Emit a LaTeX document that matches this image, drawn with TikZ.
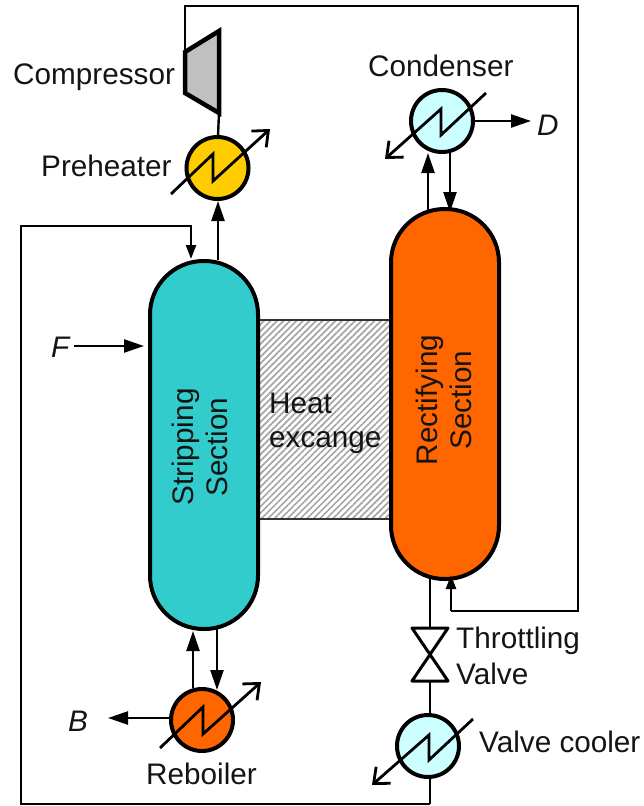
\documentclass[tikz,border=0pt]{standalone}
\usepackage{fontspec}
\setmainfont{Liberation Sans}
\usetikzlibrary{arrows.meta,patterns.meta}
\definecolor{tealfill}{HTML}{33CCCC}
\definecolor{orangefill}{HTML}{FF6600}
\definecolor{yellowfill}{HTML}{FFCC00}
\definecolor{coolfill}{HTML}{CCFFFF}
\definecolor{compfill}{HTML}{C0C0C0}
\tikzset{
  labeltext/.style={font=\fontsize{29.7}{33.5}\selectfont,inner sep=0pt,text=black!92},
  italabel/.style={labeltext,font=\fontsize{29.7}{33.5}\selectfont\itshape},
  vlabel/.style={labeltext,align=center,rotate=90},
  column/.style={draw=black,line width=4pt,rounded corners=53.5pt,minimum width=108pt,inner sep=0pt},
  hx/.style={circle,draw=black,line width=4pt,minimum size=62pt,inner sep=0pt},
  pipe/.style={draw=black,line width=2.4pt},
  flow/.style={pipe,-{Triangle[length=20pt,width=13pt]},shorten >=0pt},
  flowsmall/.style={pipe,-{Triangle[length=14pt,width=10pt]}},
  zig/.style={draw=black,line width=2.8pt,line join=miter},
  zigout/.style={zig,-{Straight Barb[length=13pt,width=22pt,line width=2.8pt]}},
  valvepart/.style={draw=black,fill=white,line width=3pt,line join=round},
  hatchbox/.style={draw=black!80,line width=1.5pt,pattern={Lines[angle=45,distance=4.6pt,line width=1.7pt]},pattern color=black!35},
}
\begin{document}
\begin{tikzpicture}[x=1pt,y=-1pt]
\useasboundingbox (0,0) rectangle (643,806);
% named anchors
\coordinate (topL) at (185,6);
\coordinate (topR) at (578,6);
\coordinate (botR) at (578,611);
\coordinate (botM) at (451,611);
\coordinate (loopTL) at (21,226);
\coordinate (loopTR) at (191,226);
\coordinate (loopBL) at (21,804);
\coordinate (loopBR) at (430,804);
\coordinate (feedS) at (74,346);
\coordinate (feedE) at (144,346);
\coordinate (compTL) at (185,52);
\coordinate (compBR) at (219,113);
\coordinate (valveT) at (430,628);
\coordinate (valveB) at (430,681);
\coordinate (dEnd) at (531,121);
\coordinate (bEnd) at (108,718);

% heat exchange band
\node[hatchbox,minimum width=133pt,minimum height=199pt,inner sep=0pt] (band) at (325,419.5) {};

% columns
\node[column,fill=tealfill,minimum height=368pt] (strip) at (204,445) {};
\node[column,fill=orangefill,minimum height=370pt] (rect) at (445,394) {};

% exchangers
\node[hx,fill=yellowfill] (pre) at (217.5,168) {};
\node[hx,fill=coolfill] (cond) at (442,121) {};
\node[hx,fill=orangefill] (reb) at (202,720) {};
\node[hx,fill=coolfill] (cool) at (428,746) {};

% piping
\draw[pipe] (compTL) -- (topL) -- (topR) -- (botR) -- (botM);
\draw[flowsmall] (botM) -- (451,575);
\draw[flowsmall] (loopBR) -- (loopBL) -- (loopTL) -- (loopTR) -- (191,259);
\draw[pipe] (loopBR) -- (430,777);
\draw[pipe] (430,715) -- (valveB);
\draw[pipe] (valveT) -- (430,579);
\draw[pipe] (compBR) -- (218,136);
\draw[flow] (218,260) -- (218,201);
\draw[flow] (428,211) -- (428,153);
\draw[flow] (450,153) -- (450,212);
\draw[flow] (cond.east) -- (dEnd);
\draw[flow] (193,688) -- (193,631);
\draw[flow] (217,629) -- (217,690);
\draw[flow] (reb.west |- bEnd) -- (bEnd);
\draw[flow] (feedS) -- (feedE);

% compressor
\draw[fill=compfill,draw=black,line width=4.5pt,line join=miter] (compTL) -- (219,31) -- (compBR) -- (185,93) -- cycle;

% valve
\draw[valvepart] (412,628) -- (448,628) -- (430,654.5) -- cycle;
\draw[valvepart] (412,681) -- (448,681) -- (430,654.5) -- cycle;

% zigzags
\draw[zigout] (171,194) -- (213,154) -- (213,181) -- (270,129);
\draw[zigout] (486,93) -- (441,135) -- (441,109) -- (385,159);
\draw[zigout] (160,748) -- (203,707) -- (203,734) -- (261,682);
\draw[zigout] (473,719) -- (429,760) -- (429,735) -- (372,785);

% labels
\node[labeltext,anchor=base west] (lcomp) at (13,84) {Compressor};
\node[labeltext,anchor=base west] (lpre) at (41,176) {Preheater};
\node[labeltext,anchor=base west] (lcond) at (368,76) {Condenser};
\node[labeltext,anchor=base west] (lthr) at (456,648) {Throttling};
\node[labeltext,anchor=base west] (lval) at (456,684) {Valve};
\node[labeltext,anchor=base west] (lcool) at (479,752) {Valve cooler};
\node[labeltext,anchor=base west] (lreb) at (146,784) {Reboiler};
\node[labeltext,anchor=base west] (lheat) at (269,413) {Heat};
\node[labeltext,anchor=base west] (lexc) at (269,447) {excange};
\node[italabel,anchor=base west] (lD) at (537,135) {D};
\node[italabel,anchor=base west] (lB) at (68,731) {B};
\node[italabel,anchor=base west] (lF) at (51,357) {F};
\node[vlabel] (lstrip) at (200,447) {Stripping\\Section};
\node[vlabel] (lrect) at (444,400) {Rectifying\\Section};
\end{tikzpicture}
\end{document}
